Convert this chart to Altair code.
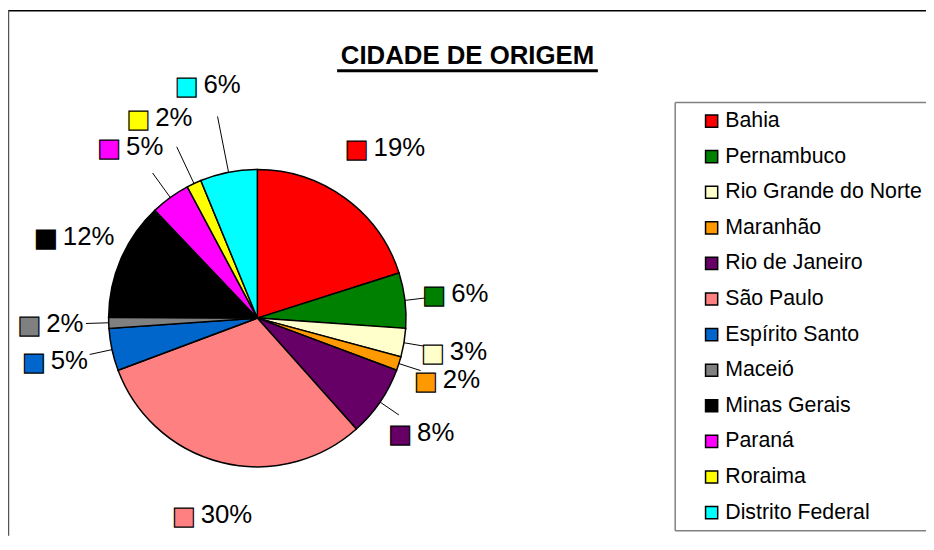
import altair as alt
import pandas as pd

states = ["Bahia", "Pernambuco", "Rio Grande do Norte", "Maranhão", "Rio de Janeiro",
          "São Paulo", "Espírito Santo", "Maceió", "Minas Gerais", "Paraná",
          "Roraima", "Distrito Federal"]
shares = [20.1, 6.0, 3.1, 1.5, 7.7, 30.9, 4.6, 1.2, 12.8, 4.3, 1.6, 6.2]
labels = ["19%", "6%", "3%", "2%", "8%", "30%", "5%", "2%", "12%", "5%", "2%", "6%"]
colors = ["#FF0000", "#008000", "#FFFFCC", "#FF9900", "#660066", "#FF8080",
          "#0066CC", "#808080", "#000000", "#FF00FF", "#FFFF00", "#00FFFF"]
title_text = "CIDADE DE ORIGEM"

df = pd.DataFrame({"idx": list(range(len(states))), "estado": states,
                   "share": shares, "label": labels})

W, H = 926, 530
CX, CY, R = 251.5, 310.5, 150
FONT = "Liberation Sans"
LEG_L, LEG_T, LEG_B = 673, 93, 525

color_scale = alt.Scale(domain=states, range=colors)


def with_angles(chart):
    # mid-angle of each slice and a label distance that grows towards the top
    return chart.transform_joinaggregate(
        total="sum(share)"
    ).transform_window(
        cum="sum(share)", sort=[alt.SortField("idx")], frame=[None, 0]
    ).transform_calculate(
        mid="2*PI*(datum.cum - datum.share/2)/datum.total"
    ).transform_calculate(
        lr="205 + 40*pow(max(0, cos(datum.mid)), 8)"
    )


pie = alt.Chart(df).mark_arc(outerRadius=R, stroke="black", strokeWidth=1.5).encode(
    theta=alt.Theta("share:Q", stack=True),
    order=alt.Order("idx:Q", sort="ascending"),
    x=alt.value(CX),
    y=alt.value(CY),
    color=alt.Color(
        "estado:N", scale=color_scale,
        legend=alt.Legend(
            title=None, orient="none", legendX=LEG_L, legendY=99,
            symbolType="square", symbolSize=150, symbolStrokeColor="black",
            symbolStrokeWidth=1.5, labelFontSize=21.5, labelFont=FONT,
            labelColor="black", rowPadding=12.9, padding=2, symbolOffset=24,
            labelOffset=3, labelLimit=400,
        ),
    ),
)

lab_base = with_angles(alt.Chart(df)).encode(
    theta=alt.Theta("mid:Q", scale=None),
    radius=alt.Radius("lr:Q", scale=None),
    x=alt.value(CX),
    y=alt.value(CY),
)

squares = lab_base.mark_text(
    text="■", fontSize=25, font="DejaVu Sans", dx=-25, dy=1,
    baseline="middle", align="center", stroke="black", strokeWidth=1.2,
).encode(color=alt.Color("estado:N", scale=color_scale, legend=None))

numbers = lab_base.mark_text(
    align="left", dx=-8, fontSize=26, font=FONT,
    baseline="middle", color="black",
).encode(text="label:N")

leaders = with_angles(alt.Chart(df)).transform_filter(
    "datum.share < 9"
).transform_calculate(
    xa=f"{CX} + {R}*sin(datum.mid)",
    ya=f"{CY} - {R}*cos(datum.mid)",
    xb=f"{CX} + (datum.lr - 32)*sin(datum.mid)",
    yb=f"{CY} - (datum.lr - 32)*cos(datum.mid)",
).mark_rule(color="black", strokeWidth=1).encode(
    x=alt.X("xa:Q", scale=None), y=alt.Y("ya:Q", scale=None),
    x2="xb:Q", y2="yb:Q",
)

title_df = pd.DataFrame({"t": [title_text]})
title = alt.Chart(title_df).mark_text(
    fontSize=26, fontWeight="bold", font=FONT, align="center",
    baseline="alphabetic", color="black",
).encode(text="t:N", x=alt.value(463.5), y=alt.value(54))

underline = alt.Chart(title_df).mark_rule(strokeWidth=3, color="black").encode(
    x=alt.value(332), x2=alt.value(595), y=alt.value(61)
)

frame_top = alt.Chart(title_df).mark_rule(strokeWidth=1.5, color="black").encode(
    x=alt.value(0), x2=alt.value(W), y=alt.value(0.5)
)
frame_left = alt.Chart(title_df).mark_rule(strokeWidth=1.5, color="#555555").encode(
    x=alt.value(0.5), y=alt.value(0), y2=alt.value(H)
)

legend_top = alt.Chart(title_df).mark_rule(strokeWidth=1.5, color="#808080").encode(
    x=alt.value(LEG_L), x2=alt.value(W), y=alt.value(LEG_T)
)
legend_bottom = alt.Chart(title_df).mark_rule(strokeWidth=1.5, color="#808080").encode(
    x=alt.value(LEG_L), x2=alt.value(W), y=alt.value(LEG_B)
)
legend_left = alt.Chart(title_df).mark_rule(strokeWidth=1.5, color="#808080").encode(
    x=alt.value(LEG_L), y=alt.value(LEG_T), y2=alt.value(LEG_B)
)

chart = alt.layer(pie, leaders, squares, numbers, title, underline,
                  frame_top, frame_left, legend_top, legend_bottom,
                  legend_left).properties(
    width=W, height=H, padding=0, autosize="none"
).configure_view(stroke=None)

chart.save("out.html", embed_options={"renderer": "svg", "actions": False})
